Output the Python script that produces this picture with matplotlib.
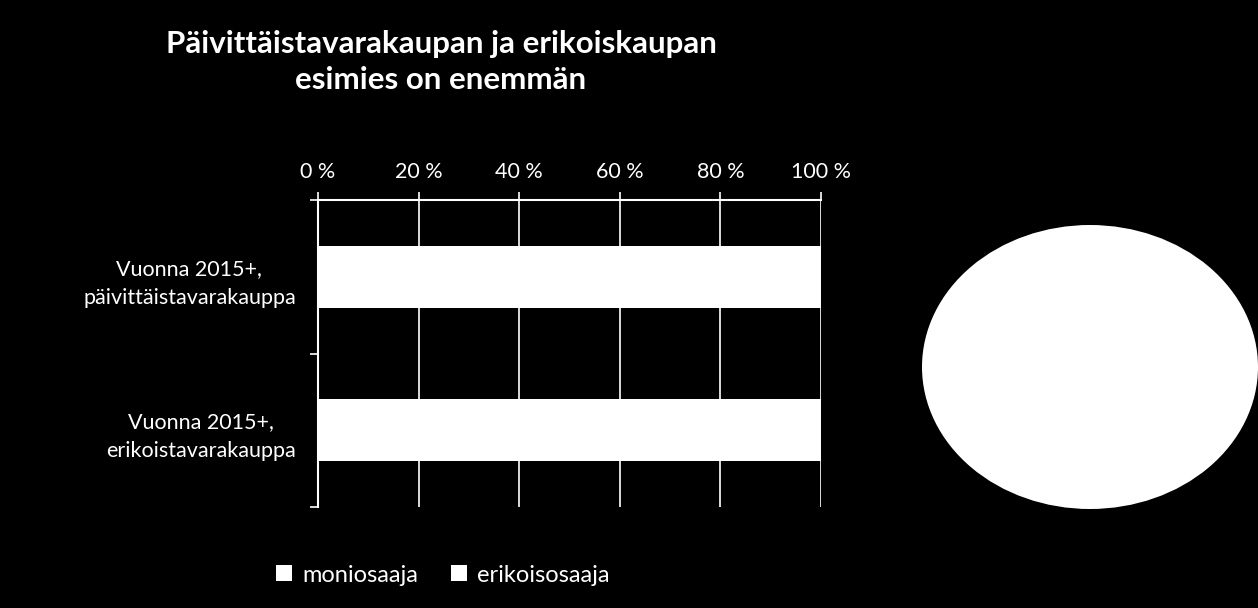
import matplotlib
matplotlib.use("Agg")
import matplotlib.pyplot as plt
from matplotlib.patches import Ellipse

categories = ["Vuonna 2015+,\npäivittäistavarakauppa", "Vuonna 2015+,\nerikoistavarakauppa"]
series_names = ["moniosaaja", "erikoisosaaja"]
moniosaaja = [55, 45]
erikoisosaaja = [45, 55]
xticks = [0, 20, 40, 60, 80, 100]
xtick_labels = ["0 %", "20 %", "40 %", "60 %", "80 %", "100 %"]
title = "Päivittäistavarakaupan ja erikoiskaupan\nesimies on enemmän"

plt.rcParams['font.family'] = ['Lato', 'DejaVu Sans']

fig = plt.figure(figsize=(12.58, 6.08), dpi=100, facecolor='black')
ax = fig.add_axes([318/1258, 1-507/608, 503/1258, 307/608])
ax.set_facecolor('black')

ypos = list(range(len(categories)))
h = 0.405
b1 = ax.barh(ypos, moniosaaja, height=h, color='white', zorder=3, label=series_names[0])
b2 = ax.barh(ypos, erikoisosaaja, left=moniosaaja, height=h, color='white', zorder=3, label=series_names[1])

ax.set_xlim(0, 100)
ax.set_ylim(len(categories)-0.5, -0.5)
ax.xaxis.tick_top()
ax.set_xticks(xticks)
ax.set_xticklabels(xtick_labels, color='white', fontsize=15.5)
ax.tick_params(axis='x', which='major', direction='out', length=6, width=1.2, color='white', pad=7)
ax.grid(axis='x', color='white', linewidth=1.2, zorder=0)

ax.set_yticks(ypos)
ax.set_yticklabels(categories, color='white', fontsize=15.5, multialignment='center',
                   linespacing=1.55)
ax.tick_params(axis='y', which='major', length=0, pad=16)
ax.set_yticks([-0.5, 0.5, 1.5], minor=True)
ax.tick_params(axis='y', which='minor', direction='out', length=6, width=1.2, color='white')

for s in ['bottom', 'right']:
    ax.spines[s].set_visible(False)
for s in ['top', 'left']:
    ax.spines[s].set_color('white')
    ax.spines[s].set_linewidth(1.5)

fig.text(441/1258, 1-62/608, title, color='white', fontsize=22.5, fontweight='bold',
         ha='center', va='center', multialignment='center', linespacing=1.35)

leg = fig.legend(handles=[b1, b2], labels=series_names, loc='center',
                 bbox_to_anchor=(443/1258, 1-575/608), ncol=2, frameon=False,
                 fontsize=17, handlelength=0.65, handleheight=0.65, handletextpad=0.45,
                 columnspacing=1.4)
for t in leg.get_texts():
    t.set_color('white')

ell = Ellipse((1090/1258, 1-367/608), 336/1258, 284/608, transform=fig.transFigure,
              facecolor='white', edgecolor='none')
fig.patches.append(ell)

fig.savefig('out.png', dpi=100, facecolor='black')
